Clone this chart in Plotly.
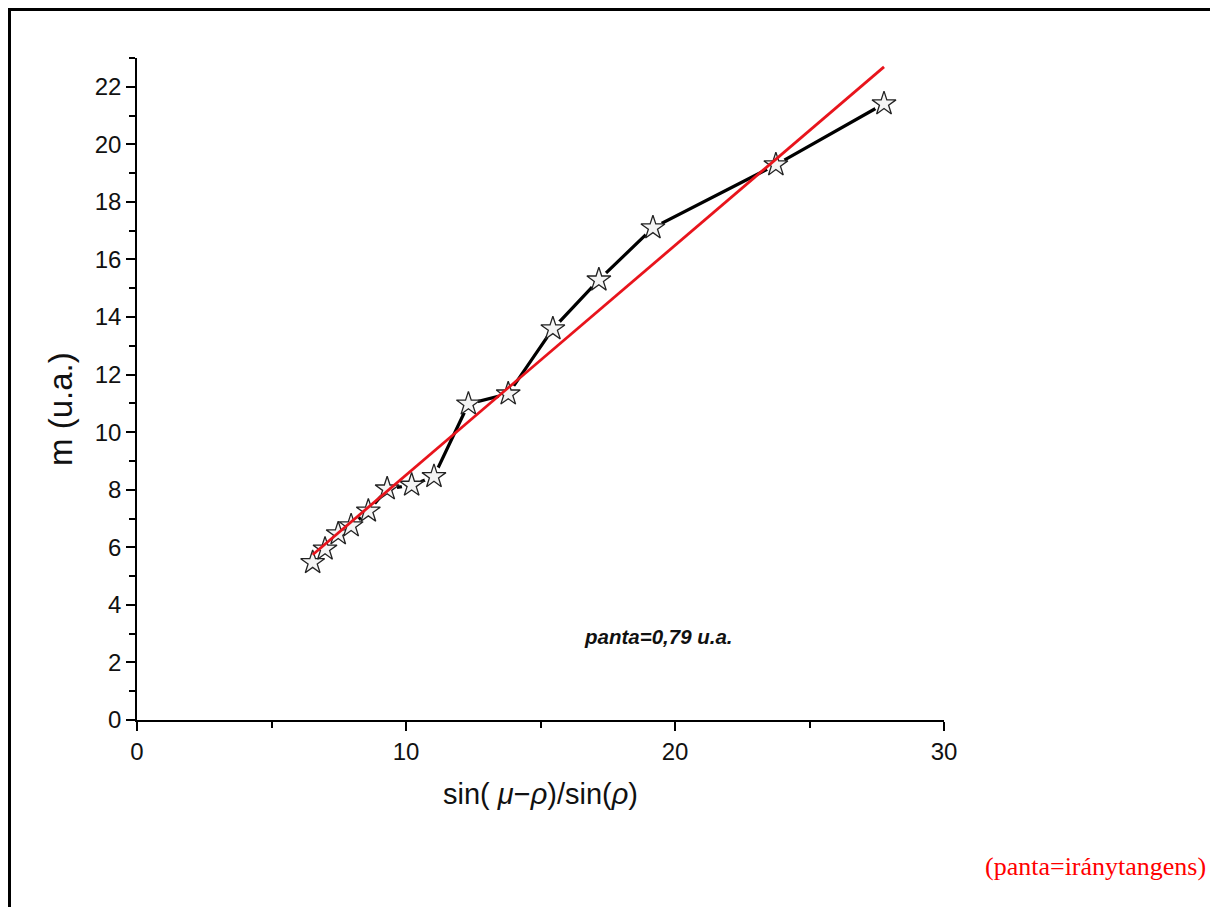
import plotly.graph_objects as go

# data
x_vals = [6.53, 6.99, 7.48, 7.96, 8.60, 9.30, 10.21, 11.04, 12.32, 13.80, 15.46, 17.17, 19.18, 23.75, 27.77]
m_vals = [5.47, 5.94, 6.47, 6.75, 7.26, 8.03, 8.16, 8.46, 10.98, 11.33, 13.59, 15.29, 17.10, 19.29, 21.41]
fit_x = [6.53, 27.77]
fit_y = [5.74, 22.69]
x_ticks = [0, 10, 20, 30]
y_ticks = [0, 2, 4, 6, 8, 10, 12, 14, 16, 18, 20, 22]

W, H = 1218, 907
L, T = 129, 50
pw, ph = 807, 662
R, B = W - L - pw, H - T - ph

fig = go.Figure()
fig.add_trace(go.Scatter(x=x_vals, y=m_vals, mode="lines",
                         line=dict(color="black", width=3.2), hoverinfo="skip"))
# white mask to create gaps around symbols
fig.add_trace(go.Scatter(x=x_vals, y=m_vals, mode="markers",
                         marker=dict(symbol="circle", size=20, color="white", line=dict(width=0)),
                         hoverinfo="skip"))
fig.add_trace(go.Scatter(x=x_vals, y=m_vals, mode="markers",
                         marker=dict(symbol="star", size=18, color="#f4f4f4",
                                     line=dict(color="#222222", width=1.3))))
fig.add_trace(go.Scatter(x=fit_x, y=fit_y, mode="lines",
                         line=dict(color="#e8141c", width=2.8), hoverinfo="skip"))

axis_font = dict(family="Liberation Sans, Arial", size=24, color="#111")
fig.update_xaxes(range=[0, 30], tickvals=x_ticks, showgrid=False, zeroline=False,
                 showline=True, linecolor="black", linewidth=1.6,
                 ticks="outside", ticklen=9, tickwidth=1.5, tickcolor="black",
                 minor=dict(tickvals=[5, 15, 25], ticks="outside", ticklen=6, tickwidth=1.5, tickcolor="black"),
                 tickfont=axis_font,
                 title=dict(text="sin( <i>μ</i>−<i>ρ</i>)/sin(<i>ρ</i>)",
                            font=dict(family="Liberation Sans, Arial", size=29, color="#111"), standoff=20))
fig.update_yaxes(range=[0, 23], tickvals=y_ticks, showgrid=False, zeroline=False,
                 showline=True, linecolor="black", linewidth=1.6,
                 ticks="outside", ticklen=9, tickwidth=1.5, tickcolor="black",
                 minor=dict(dtick=1, ticks="outside", ticklen=6, tickwidth=1.5, tickcolor="black"),
                 tickfont=axis_font)


# fig px = screen px - 8
def px(xp):
    return (xp - L) / pw

def py(yp):
    return (T + ph - yp) / ph

fig.add_annotation(xref="paper", yref="paper", x=px(52), y=py(401), textangle=-90,
                   text="m (u.a.)", showarrow=False, xanchor="center", yanchor="middle",
                   font=dict(family="Liberation Sans, Arial", size=33, color="#111"))

fig.add_annotation(x=19.4, y=2.9, xref="x", yref="y", text="<b><i>panta=0,79 u.a.</i></b>",
                   showarrow=False, font=dict(family="Liberation Sans, Arial", size=20.5, color="#111"))

fig.add_shape(type="rect", xref="paper", yref="paper",
              x0=px(1.5), x1=px(1207), y0=py(930), y1=py(1.5),
              line=dict(color="black", width=3), fillcolor="rgba(0,0,0,0)", layer="below")

fig.add_annotation(xref="paper", yref="paper", x=px(1200), y=py(858), xanchor="right", yanchor="middle",
                   text="(panta=iránytangens)", showarrow=False,
                   font=dict(family="Liberation Serif, Times New Roman", size=26, color="#ff0000"))

fig.update_layout(width=W, height=H, margin=dict(l=L, r=R, t=T, b=B),
                  paper_bgcolor="white", plot_bgcolor="white", showlegend=False)

fig.write_html("out.html")
